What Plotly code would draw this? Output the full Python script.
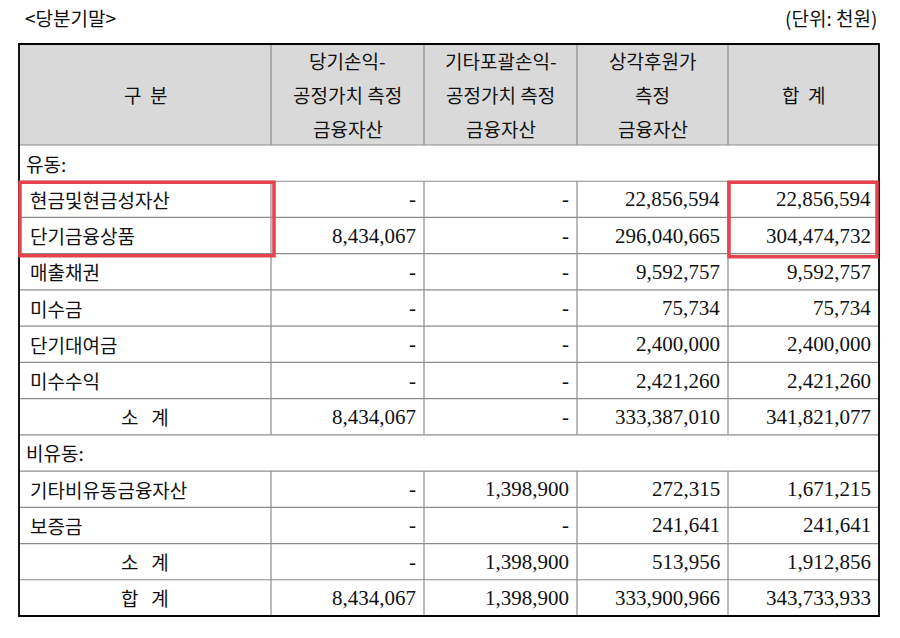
import plotly.graph_objects as go

title_left = "<당분기말>"
title_right = "(단위: 천원)"
headers = [["구 분"], ["당기손익-", "공정가치 측정", "금융자산"], ["기타포괄손익-", "공정가치 측정", "금융자산"],
           ["상각후원가", "측정", "금융자산"], ["합 계"]]
# (label, kind, values) kind: section / item / sub
rows = [
    ("유동:", "section", None),
    ("현금및현금성자산", "item", ["-", "-", "22,856,594", "22,856,594"]),
    ("단기금융상품", "item", ["8,434,067", "-", "296,040,665", "304,474,732"]),
    ("매출채권", "item", ["-", "-", "9,592,757", "9,592,757"]),
    ("미수금", "item", ["-", "-", "75,734", "75,734"]),
    ("단기대여금", "item", ["-", "-", "2,400,000", "2,400,000"]),
    ("미수수익", "item", ["-", "-", "2,421,260", "2,421,260"]),
    ("소 계", "sub", ["8,434,067", "-", "333,387,010", "341,821,077"]),
    ("비유동:", "section", None),
    ("기타비유동금융자산", "item", ["-", "1,398,900", "272,315", "1,671,215"]),
    ("보증금", "item", ["-", "-", "241,641", "241,641"]),
    ("소 계", "sub", ["-", "1,398,900", "513,956", "1,912,856"]),
    ("합 계", "sub", ["8,434,067", "1,398,900", "333,900,966", "343,733,933"]),
]
highlight_rows = [1, 2]

colx = [18, 270, 423, 576, 727, 878]
top, head_bot, bottom = 43, 144, 615
rh = (bottom - head_bot) / len(rows)
KR = "Noto Sans CJK KR"
SERIF = "Liberation Serif"
OFF = 7  # browser body margin
C = "#111"

fig = go.Figure()
shapes, ann = [], []
grey = "#8c8c8c"
shapes.append(dict(type="rect", x0=colx[0], x1=colx[-1], y0=top, y1=head_bot,
                   fillcolor="#d9d9d9", line=dict(width=0), layer="below"))
ys = [head_bot + i * rh for i in range(len(rows) + 1)]
for y in ys[:-1]:
    shapes.append(dict(type="line", x0=colx[0], x1=colx[-1], y0=y, y1=y, line=dict(color=grey, width=1.2)))
for cx in colx[1:-1]:
    shapes.append(dict(type="line", x0=cx, x1=cx, y0=top, y1=head_bot, line=dict(color=grey, width=1.2)))
    for i, r in enumerate(rows):
        if r[1] != "section":
            shapes.append(dict(type="line", x0=cx, x1=cx, y0=ys[i], y1=ys[i + 1], line=dict(color=grey, width=1.2)))
shapes.append(dict(type="rect", x0=colx[0], x1=colx[-1], y0=top, y1=bottom, line=dict(color="black", width=1.8)))

for j, h in enumerate(headers):
    xc = (colx[j] + colx[j + 1]) / 2
    n = len(h)
    for k, line in enumerate(h):
        yc = (top + head_bot) / 2 + (k - (n - 1) / 2) * 34
        ann.append(dict(x=xc, y=yc, text=line.replace(" ", "&nbsp;&nbsp;") if n == 1 else line, showarrow=False,
                        font=dict(family=KR, size=19, color=C)))
for i, (lab, kind, vals) in enumerate(rows):
    yc = (ys[i] + ys[i + 1]) / 2
    if kind == "section":
        ann.append(dict(x=colx[0] + 5, y=yc, text=lab, xanchor="left", showarrow=False,
                        font=dict(family=KR, size=19, color=C)))
    elif kind == "item":
        ann.append(dict(x=colx[0] + 9, y=yc, text=lab, xanchor="left", showarrow=False,
                        font=dict(family=KR, size=19, color=C)))
    else:
        ann.append(dict(x=(colx[0] + colx[1]) / 2, y=yc, text=lab.replace(" ", "&nbsp;&nbsp;&nbsp;"), showarrow=False,
                        font=dict(family=KR, size=19, color=C)))
    if vals:
        for j, v in enumerate(vals):
            ann.append(dict(x=colx[j + 2] - 6, y=yc, text=v, xanchor="right", showarrow=False,
                            font=dict(family=SERIF, size=21, color=C)))

r0, r1 = highlight_rows[0], highlight_rows[-1] + 1
red = "#e5434d"
shapes.append(dict(type="rect", x0=colx[0] + 1, x1=colx[1] + 3, y0=ys[r0] + 1, y1=ys[r1] + 2, line=dict(color=red, width=3.5)))
shapes.append(dict(type="rect", x0=colx[4] + 1, x1=colx[5] - 2, y0=ys[r0] + 1, y1=ys[r1] + 3, line=dict(color=red, width=3.5)))

ann.append(dict(x=22, y=16, text=title_left, xanchor="left", showarrow=False, font=dict(family=KR, size=19, color=C)))
ann.append(dict(x=878, y=16, text=title_right, xanchor="right", showarrow=False, font=dict(family=KR, size=19, color=C)))

fig.add_trace(go.Scatter(x=[OFF, 900 + OFF], y=[OFF, 638 + OFF], mode="markers", marker=dict(opacity=0), hoverinfo="skip"))
fig.update_layout(width=900, height=638, margin=dict(l=0, r=0, t=0, b=0), plot_bgcolor="white",
                  paper_bgcolor="white", shapes=shapes, annotations=ann, showlegend=False,
                  xaxis=dict(range=[OFF, 900 + OFF], visible=False, fixedrange=True),
                  yaxis=dict(range=[638 + OFF, OFF], visible=False, fixedrange=True))
fig.write_html("out.html")
